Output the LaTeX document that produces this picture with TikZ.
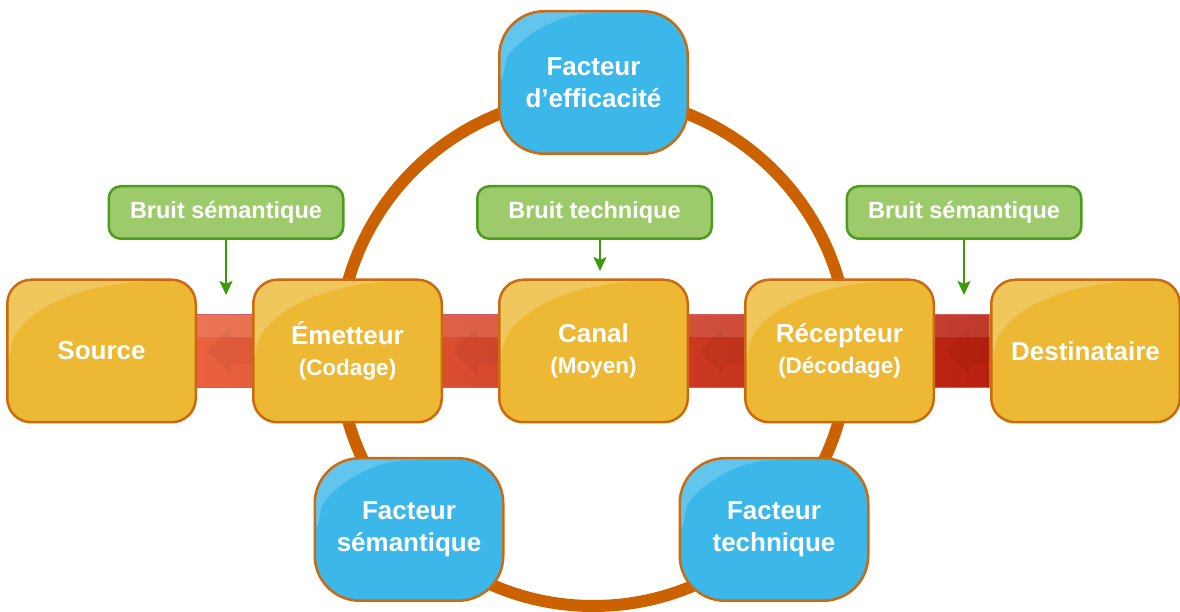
\documentclass[tikz,border=0pt]{standalone}
\usepackage{fontspec}
\setmainfont{Liberation Sans}
\usetikzlibrary{arrows.meta,positioning,backgrounds,calc}
\definecolor{CommGold}{HTML}{EDB935}
\definecolor{CommGoldLine}{HTML}{CC6A10}
\definecolor{CommSky}{HTML}{3BB7E9}
\definecolor{CommGreen}{HTML}{9DCB6B}
\definecolor{CommGreenLine}{HTML}{4E9C1E}
\definecolor{CommArrow}{HTML}{3A9A0C}
\definecolor{CommRing}{HTML}{CC6100}
\definecolor{CommRedL}{HTML}{EA6240}
\definecolor{CommRedR}{HTML}{B8200F}
\definecolor{CommBandLine}{HTML}{D65A64}
\newcommand\commsub[1]{{\fontsize{22.5}{31}\selectfont #1}}
\tikzset{
  commgloss/.style 2 args={
    path picture={
      \fill[white,opacity=.2]
        (path picture bounding box.north west)
        -- ([yshift=-#1pt]path picture bounding box.north west)
        .. controls ([shift={(8,{-0.4*#1})}]path picture bounding box.north west)
        and ([shift={({0.35*#2},-4)}]path picture bounding box.north west)
        .. ([xshift=#2pt]path picture bounding box.north west) -- cycle;
    }
  },
  commbox/.style={
    draw=CommGoldLine,
    fill=CommGold,
    line width=2.5pt,
    rounded corners=24pt,
    minimum width=188.5pt,
    minimum height=142.5pt,
    align=center,
    text=white,
    font=\bfseries\fontsize{26}{31}\selectfont,
    commgloss={92}{172}
  },
  commfactor/.style={
    draw=CommGoldLine,
    fill=CommSky,
    line width=2.5pt,
    rounded corners=45pt,
    minimum width=188.5pt,
    minimum height=142.5pt,
    align=center,
    text=white,
    font=\bfseries\fontsize{26}{32}\selectfont,
    commgloss={95}{135}
  },
  commnoise/.style={
    draw=CommGreenLine,
    fill=CommGreen,
    line width=2.5pt,
    rounded corners=12pt,
    minimum width=234.5pt,
    minimum height=52.5pt,
    text=white,
    font=\bfseries\fontsize{23.5}{28}\selectfont
  },
  commflow/.style={-{Stealth[length=14pt,width=13pt,inset=3pt]},draw=CommArrow,line width=2pt},
  commring/.style={draw=CommRing,line width=12pt},
  commband/.style={draw=CommBandLine,line width=1.2pt,left color=CommRedL,right color=CommRedR},
  commchevron/.style={fill=black,opacity=.045}
}
\begin{document}
\begin{tikzpicture}[x=1pt,y=1pt,node distance=55pt]
  \useasboundingbox (0,0) rectangle (1180,612);
  \coordinate (hub) at (593.5,261);
  % chain of the message
  \node[commbox] (canal) at (hub) {Canal\\\commsub{(Moyen)}};
  \node[commbox,left=of canal] (emetteur) {Émetteur\\\commsub{(Codage)}};
  \node[commbox,left=of emetteur] (source) {Source};
  \node[commbox,right=of canal] (recepteur) {Récepteur\\\commsub{(Décodage)}};
  \node[commbox,right=of recepteur] (destinataire) {Destinataire};
  % factors on the ring
  \node[commfactor,above=123.5pt of canal] (efficacite) {Facteur\\d’efficacité};
  \node[commfactor] (semantique) at (409,82.5) {Facteur\\sémantique};
  \node[commfactor] (technique) at (774,82.5) {Facteur\\technique};
  % noise
  \node[commnoise] (bruitsrc) at (226,399.5) {Bruit sémantique};
  \node[commnoise] (bruitcanal) at (594.5,399.5) {Bruit technique};
  \node[commnoise] (bruitdst) at (964,399.5) {Bruit sémantique};
  \coordinate (impactsrc) at (226,317);
  \coordinate (impactcanal) at (600,341);
  \coordinate (impactdst) at (964,317);
  \draw[commflow] (bruitsrc) -- (impactsrc);
  \draw[commflow] (bruitcanal.south -| impactcanal) -- (impactcanal);
  \draw[commflow] (bruitdst) -- (impactdst);
  \begin{scope}[on background layer]
    \draw[commring] (hub) circle[radius=255];
    \shade[commband] ([yshift=36.5pt]source.east) rectangle ([yshift=-36.5pt]destinataire.west);
    \fill[white,opacity=.12] ([yshift=36pt]source.east) rectangle ([yshift=14pt]destinataire.west);
    \foreach \a/\b in {source/emetteur,emetteur/canal,canal/recepteur,recepteur/destinataire}
      \fill[commchevron] ($(\a.east)+(10,0)$) -- ++(24,24) -- ++(0,-11)
        -- ($(\b.west)+(0,13)$) -- ($(\b.west)+(0,-13)$)
        -- ($(\a.east)+(34,-13)$) -- ++(0,-11) -- cycle;
  \end{scope}
\end{tikzpicture}
\end{document}
